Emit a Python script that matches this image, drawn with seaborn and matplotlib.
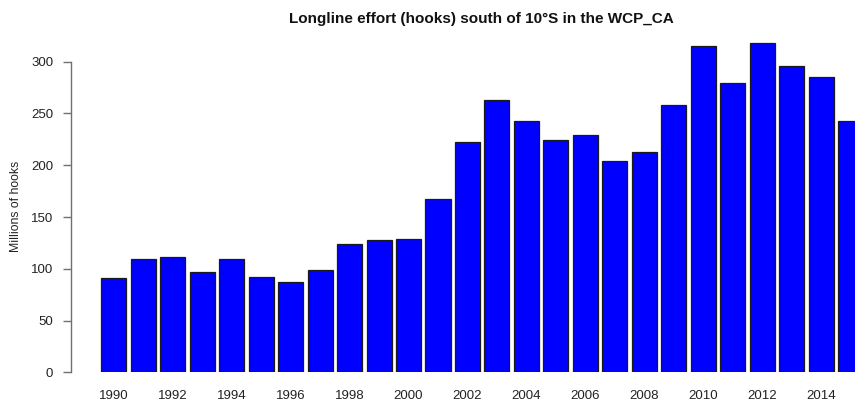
import matplotlib
matplotlib.use("Agg")
import matplotlib.pyplot as plt
import seaborn as sns
import pandas as pd

years = list(range(1990, 2016))
hooks_millions = [91, 109, 111, 97, 109, 92, 87, 99, 124, 128,
                  129, 167, 222, 263, 243, 224, 229, 204, 213, 258,
                  315, 279, 318, 296, 285, 243]
ytick_values = [0, 50, 100, 150, 200, 250, 300]
title_text = "Longline effort (hooks) south of 10\u00b0S in the WCP_CA"
ylabel_text = "Millions of hooks"

sns.set_style("white")
plt.rcParams["font.family"] = ["Liberation Sans", "DejaVu Sans"]

df = pd.DataFrame({"year": [str(y) for y in years], "hooks": hooks_millions})

fig = plt.figure(figsize=(8.55, 4.03), dpi=100)
ax = fig.add_axes([71 / 855, 1 - 372.3 / 403, 1 - 71 / 855, (372.3 - 40) / 403])

sns.barplot(data=df, x="year", y="hooks", color="#0000FF", saturation=1,
            width=0.85, edgecolor="#1a1a1a", linewidth=0.9, ax=ax, zorder=3)

ax.set_xlim(-1.454, 25.15)
ax.set_ylim(0, 321)

for side in ["top", "right", "bottom"]:
    ax.spines[side].set_visible(False)
ax.spines["left"].set_bounds(0, 300)
ax.spines["left"].set_color("#707070")
ax.spines["left"].set_linewidth(1.0)

ax.set_yticks(ytick_values)
ax.set_yticklabels([str(v) for v in ytick_values])
ax.tick_params(axis="y", left=True, length=5.8, width=1.0, color="#707070",
               pad=7, labelsize=9.5, labelcolor="#222222")

even_idx = [i for i, y in enumerate(years) if y % 2 == 0]
ax.set_xticks(even_idx)
ax.set_xticklabels([str(years[i]) for i in even_idx])
ax.tick_params(axis="x", bottom=False, length=0, pad=13, labelsize=9.5,
               labelcolor="#222222")

ax.set_xlabel("")
ax.set_ylabel("")
ax.grid(False)

fig.text(16 / 855, 1 - 206 / 403, ylabel_text, rotation=90, ha="center",
         va="center", fontsize=8.8, color="#222222")
fig.text(481 / 855, 1 - 23 / 403, title_text, ha="center", va="baseline",
         fontsize=11, fontweight="bold", color="#111111")

fig.savefig("out.png", dpi=100)
